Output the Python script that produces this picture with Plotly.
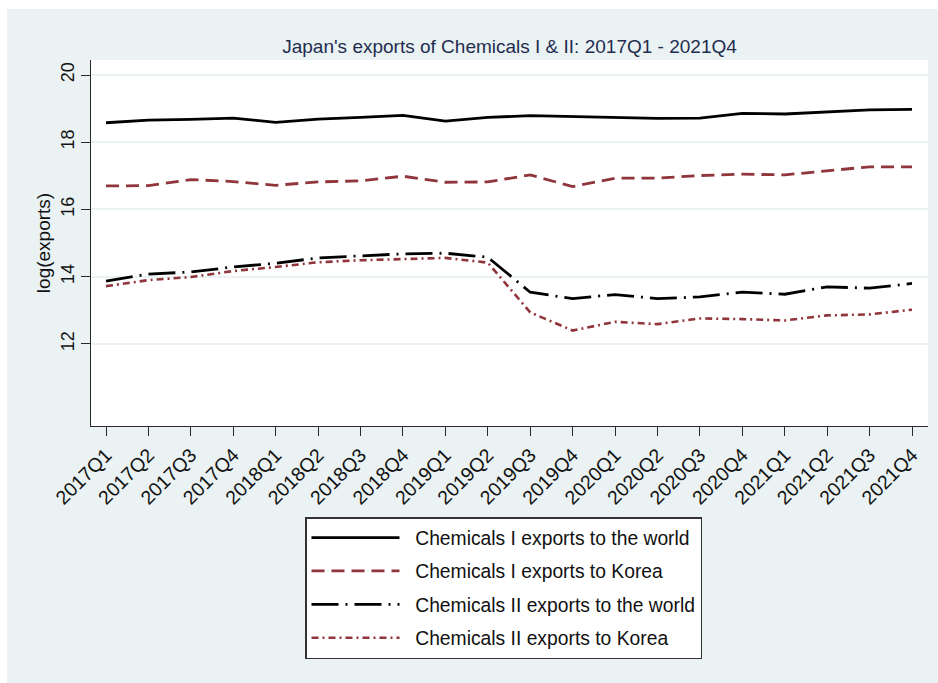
import plotly.graph_objects as go

quarters = ["2017Q1", "2017Q2", "2017Q3", "2017Q4", "2018Q1", "2018Q2", "2018Q3", "2018Q4",
            "2019Q1", "2019Q2", "2019Q3", "2019Q4", "2020Q1", "2020Q2", "2020Q3", "2020Q4",
            "2021Q1", "2021Q2", "2021Q3", "2021Q4"]

chem1_world = [18.58, 18.66, 18.68, 18.72, 18.59, 18.69, 18.74, 18.80, 18.63, 18.74,
               18.79, 18.76, 18.73, 18.71, 18.72, 18.86, 18.84, 18.90, 18.96, 18.98]
chem1_korea = [16.70, 16.71, 16.89, 16.83, 16.72, 16.82, 16.85, 16.99, 16.81, 16.82,
               17.03, 16.68, 16.93, 16.93, 17.01, 17.05, 17.03, 17.16, 17.27, 17.27]
chem2_world = [13.87, 14.08, 14.14, 14.29, 14.40, 14.56, 14.62, 14.68, 14.70, 14.58,
               13.54, 13.35, 13.47, 13.35, 13.40, 13.54, 13.48, 13.70, 13.66, 13.80]
chem2_korea = [13.72, 13.90, 13.99, 14.17, 14.29, 14.43, 14.49, 14.53, 14.56, 14.42,
               12.94, 12.40, 12.66, 12.59, 12.76, 12.74, 12.70, 12.85, 12.88, 13.02]

series_names = ["Chemicals I exports to the world", "Chemicals I exports to Korea",
                "Chemicals II exports to the world", "Chemicals II exports to Korea"]
y_ticks = [12, 14, 16, 18, 20]

BLACK = "#000000"
MAROON = "#90353B"
BG = "#EAF2F3"
FONT = "Liberation Sans, Arial, sans-serif"
PAD = "\u00a0\u00a0"

styles = [
    dict(color=BLACK, width=2.8, dash="solid"),
    dict(color=MAROON, width=2.8, dash="13px,7px"),
    dict(color=BLACK, width=2.8, dash="27px,7px,2px,7px"),
    dict(color=MAROON, width=2.6, dash="7px,4px,2px,4px"),
]

fig = go.Figure()
for i, (name, vals) in enumerate(zip(series_names, [chem1_world, chem1_korea, chem2_world, chem2_korea])):
    fig.add_trace(go.Scatter(x=quarters, y=vals, mode="lines", name=PAD + name,
                             line=styles[i], legendgroup=f"g{i}"))

W, H = 938, 683
ml, mr, mt, mb = 91, 10, 60, 257

fig.update_layout(
    width=W, height=H,
    margin=dict(l=ml, r=mr, t=mt, b=mb, autoexpand=False),
    paper_bgcolor=BG, plot_bgcolor="white",
    font=dict(family=FONT, size=18, color="#111111"),
    title=dict(text="Japan's exports of Chemicals I &amp; II: 2017Q1 - 2021Q4",
               x=0.5, xref="paper", xanchor="center",
               y=1 - 46 / H, yref="container", yanchor="middle",
               font=dict(family=FONT, size=19, color="#1F2D50")),
    showlegend=True,
    legend=dict(x=(305 - ml) / (W - ml - mr), xanchor="left",
                y=(H - mb - 517) / (H - mt - mb), yanchor="top",
                bgcolor="white", bordercolor="#333333", borderwidth=1.5,
                font=dict(family=FONT, size=19.3, color="#111111"),
                itemwidth=88, tracegroupgap=5.3, traceorder="grouped",
                itemclick=False, itemdoubleclick=False),
    xaxis=dict(type="category", range=[-0.354, 19.377], tickangle=-45,
               showgrid=False, zeroline=False, showline=True, linecolor="#2a2a2a", linewidth=1.3,
               ticks="outside", ticklen=9, tickwidth=1.3, tickcolor="#2a2a2a",
               tickfont=dict(family=FONT, size=19.5, color="#111111")),
    yaxis=dict(range=[9.561, 20.446], tickvals=y_ticks, tickangle=-90,
               showgrid=True, gridcolor=BG, gridwidth=2, zeroline=False,
               showline=True, linecolor="#2a2a2a", linewidth=1.3,
               ticks="outside", ticklen=9, tickwidth=1.3, tickcolor="#2a2a2a",
               tickfont=dict(family=FONT, size=18, color="#111111"),
               title=dict(text="log(exports)", standoff=2,
                          font=dict(family=FONT, size=19, color="#111111"))),
    shapes=[
        dict(type="rect", xref="paper", yref="paper", layer="below",
             x0=-ml / (W - ml - mr), x1=-(ml - 7) / (W - ml - mr),
             y0=-mb / (H - mt - mb), y1=1 + mt / (H - mt - mb),
             fillcolor="white", line=dict(width=0)),
        dict(type="rect", xref="paper", yref="paper", layer="below",
             x0=-ml / (W - ml - mr), x1=1 + mr / (W - ml - mr),
             y0=1 + (mt - 9) / (H - mt - mb), y1=1 + mt / (H - mt - mb),
             fillcolor="white", line=dict(width=0)),
    ],
)

fig.write_html("out.html")
